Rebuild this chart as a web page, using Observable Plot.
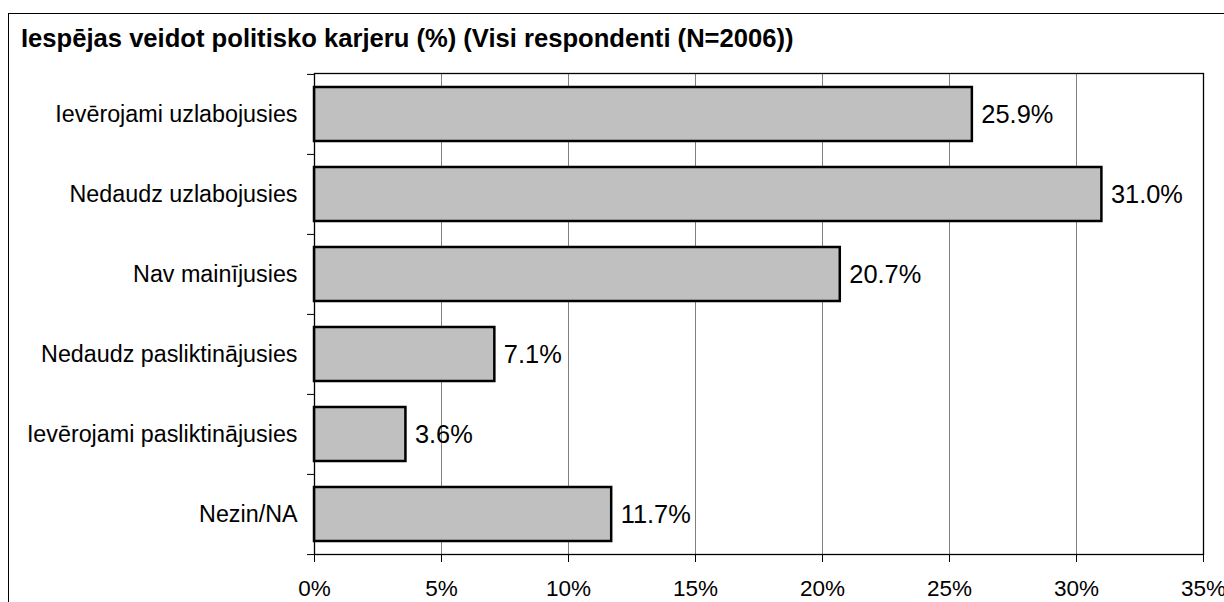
<!DOCTYPE html>
<html>
<head>
<meta charset="utf-8">
<script src="https://cdn.jsdelivr.net/npm/d3@7"></script>
<script src="https://cdn.jsdelivr.net/npm/@observablehq/plot@0.6"></script>
<style>
  html, body { margin: 0; padding: 0; background: #fff; overflow: hidden; width: 1224px; height: 602px; }
  #wrap { position: relative; width: 1224px; height: 602px; overflow: hidden; font-family: "Liberation Sans", Arial, sans-serif; }
  #border { position: absolute; left: 8px; top: 13px; width: 1400px; height: 800px; border: 1.5px solid #000; box-sizing: border-box; pointer-events: none; z-index: 2; }
  #title { height: 60px; box-sizing: border-box; padding-left: 21px; padding-top: 24px; font-size: 25.6px; line-height: 28px; font-weight: bold; color: #000; white-space: nowrap; }
  #chart svg { display: block; }
</style>
</head>
<body>
<div id="wrap">
  <div id="border"></div>
  <div id="title">Iespējas veidot politisko karjeru (%) (Visi respondenti (N=2006))</div>
  <div id="chart"></div>
</div>
<script>
const categories = [
  "Ievērojami uzlabojusies",
  "Nedaudz uzlabojusies",
  "Nav mainījusies",
  "Nedaudz pasliktinājusies",
  "Ievērojami pasliktinājusies",
  "Nezin/NA"
];
const values = [25.9, 31.0, 20.7, 7.1, 3.6, 11.7];
const xTicks = [0, 5, 10, 15, 20, 25, 30, 35];

const rows = categories.map((c, i) => ({label: c, value: values[i]}));

const W = 1224, H = 542;
const mTop = 13, mBottom = 48, mLeft = 314, mRight = 21;
const step = (H - mTop - mBottom) / categories.length;
const pInner = 0.325;

const chart = Plot.plot({
  width: W,
  height: H,
  marginTop: mTop,
  marginBottom: mBottom,
  marginLeft: mLeft,
  marginRight: mRight,
  style: {fontFamily: "'Liberation Sans', Arial, sans-serif", fontSize: "23px", color: "#000", background: "transparent", overflow: "visible"},
  x: {domain: [0, 35]},
  y: {domain: categories, paddingInner: pInner, paddingOuter: pInner / 2},
  marks: [
    Plot.gridX(xTicks.filter(t => t > 0 && t < 35), {stroke: "#808080", strokeOpacity: 1, strokeWidth: 1}),
    Plot.barX(rows, {x: "value", y: "label", fill: "#c0c0c0", stroke: "#000", strokeWidth: 2.5}),
    Plot.text(rows, {x: "value", y: "label", text: d => d.value.toFixed(1) + "%", textAnchor: "start", dx: 9, fontSize: 25.4, fill: "#000"}),
    Plot.frame({stroke: "#000", strokeWidth: 1.3}),
    Plot.axisX({ticks: xTicks, tickFormat: d => d + "%", tickSize: 8, tickPadding: 18, fontSize: 22.5, label: null, stroke: "#000"}),
    Plot.axisY({ticks: categories, tickSize: 0, tickPadding: 17, fontSize: 23.3, label: null}),
    Plot.axisY({ticks: categories, tickSize: 7, text: null, label: null, dy: -step / 2, stroke: "#000"}),
    Plot.axisY({ticks: categories.slice(-1), tickSize: 7, text: null, label: null, dy: step / 2, stroke: "#000"})
  ]
});
document.getElementById("chart").appendChild(chart);
</script>
</body>
</html>
